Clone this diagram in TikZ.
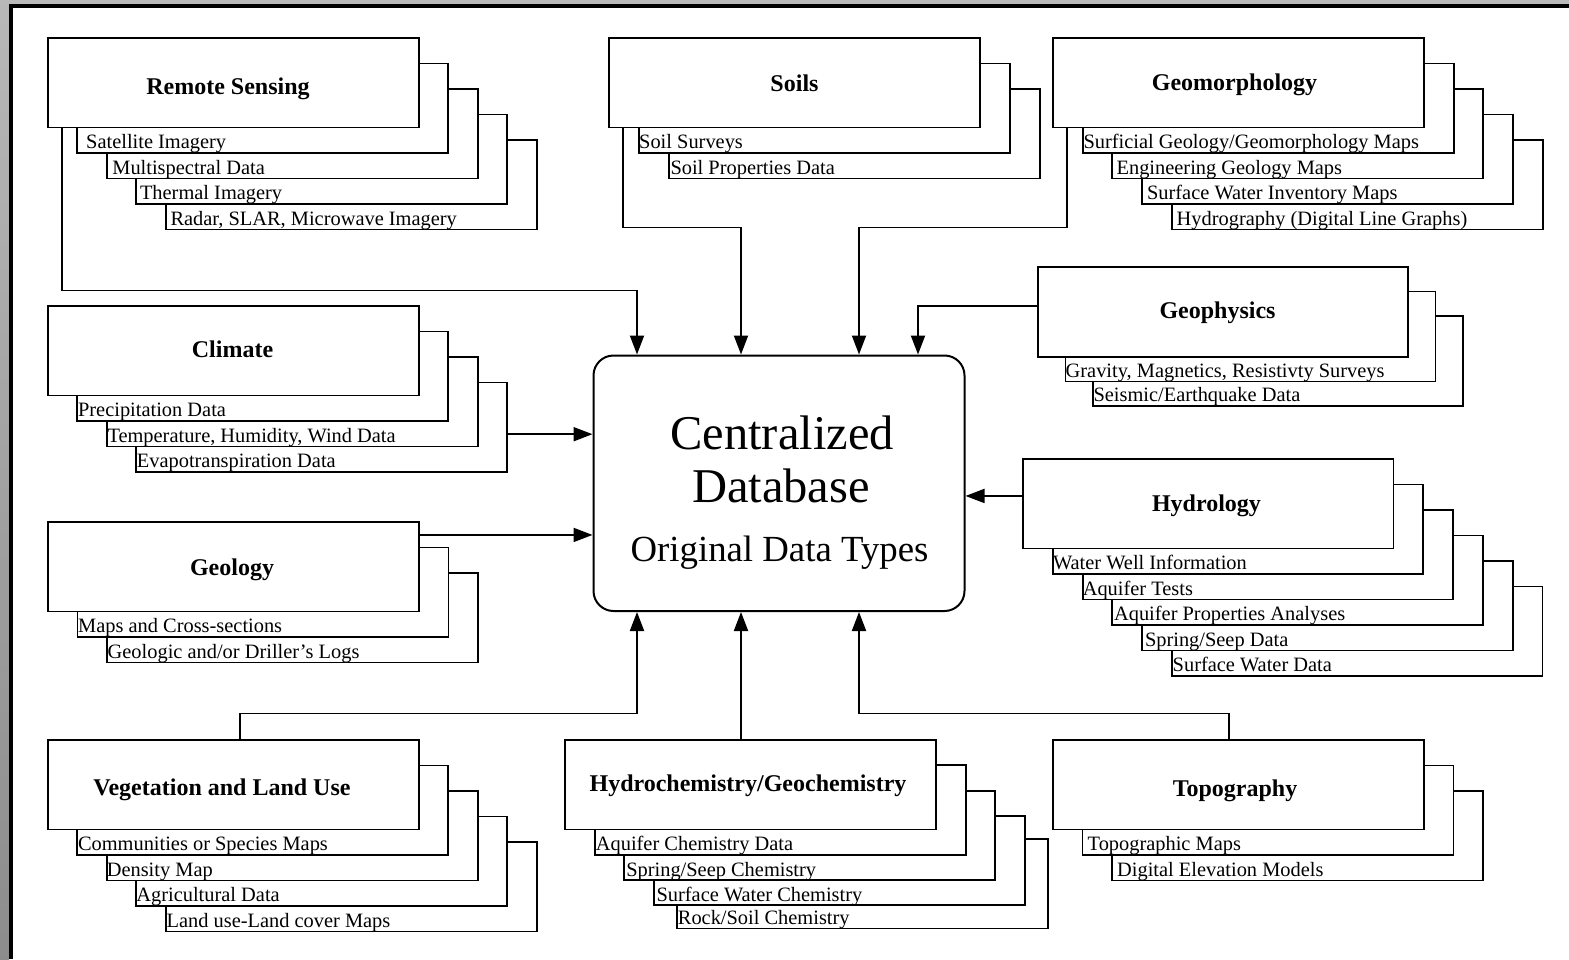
\documentclass[tikz,border=0pt]{standalone}
\usepackage{fontspec}
\setmainfont{Liberation Serif}
\usetikzlibrary{arrows.meta}

\tikzset{
  layer/.style={rectangle, draw, fill=white, line width=1.9pt,
    minimum width=371pt, minimum height=89.5pt, inner sep=0pt, anchor=north west},
  ttl/.style={font=\fontsize{24}{28}\selectfont\bfseries, inner sep=0pt, anchor=base},
  item/.style={font=\fontsize{20.4}{24}\selectfont, inner sep=0pt, anchor=base west},
  link/.style={line width=1.9pt, -{Triangle[length=19pt,width=14pt]}},
  hub/.style={rectangle, draw, fill=white, line width=2pt, rounded corners=20pt,
    minimum width=371pt, minimum height=255.5pt, inner sep=0pt},
  hubtxt/.style={inner sep=0pt, anchor=base},
}

% a pile of equal boxes, drawn from the back one (index #5) to the front one (index 0)
% #1 extra style, #2 name, #3,#4 top-left of the front box, #5 last index, #6,#7 step
\newcommand\boxstack[7][]{%
  \foreach \k in {#5,...,0}{%
    \node[layer,#1] (#2\k) at ({#3+\k*#6},{#4+\k*#7}) {};}}

% a line of text along the bottom strip of a back box
% #1 left inset, #2 box name, #3 text
\newcommand\itm[3][1.5]{%
  \node[item] (#2t) at ([xshift=#1pt,yshift=5pt]#2.south west) {#3};}

\begin{document}
\begin{tikzpicture}[x=1pt,y=-1pt]
\useasboundingbox (0,0) rectangle (1569,959);
\fill[white] (0,0) rectangle (1569,959);

% frame along the top and left edges
\fill[black!27] (0,0) rectangle (1569,4);
\shade[top color=black!28, bottom color=black!45] (0,0) rectangle (9,959);
\fill[black] (9,4) rectangle (1569,8);
\fill[black] (9,4) rectangle (13,959);

% ---- box piles ----
\boxstack{rs}{47}{37}{4}{29.4}{25.5}
\boxstack{so}{608}{37}{2}{30}{25.5}
\boxstack{gm}{1052}{37}{4}{29.7}{25.5}
\boxstack{cl}{47}{305}{3}{29.4}{25.5}
\boxstack{ge}{47}{521}{2}{29.5}{25.5}
\boxstack[minimum width=370pt, minimum height=90pt]{gp}{1037}{266}{2}{27.5}{24.5}
\boxstack[minimum width=370.5pt]{hy}{1022}{458}{5}{29.8}{25.5}
\boxstack{vg}{47}{739}{4}{29.4}{25.5}
\node[layer] (hc4) at (676,838) {};
\boxstack{hc}{564}{739}{3}{29.7}{25.3}
\boxstack{tp}{1052}{739}{2}{29.5}{25.5}

% ---- central database ----
\node[hub] (db) at (779,483.25) {};
\node[hubtxt, font=\fontsize{48.5}{52}\selectfont] (dbt1) at (782,449.3) {Centralized};
\node[hubtxt, font=\fontsize{48.5}{52}\selectfont] (dbt2) at (781,502.3) {Database};
\node[hubtxt, font=\fontsize{36.8}{40}\selectfont] (dbt3) at (779.5,561.7) {Original Data Types};

% entry points on the database box
\coordinate (dbN1) at ([xshift=44.5pt]db.north west);
\coordinate (dbN2) at ([xshift=148.5pt]db.north west);
\coordinate (dbN3) at ([xshift=266.5pt]db.north west);
\coordinate (dbN4) at ([xshift=325.5pt]db.north west);
\coordinate (dbS1) at ([xshift=44.5pt]db.south west);
\coordinate (dbS2) at ([xshift=148.5pt]db.south west);
\coordinate (dbS3) at ([xshift=266.5pt]db.south west);

% ---- connectors ----
\coordinate (rsA) at ([xshift=15pt]rs0.south west);
\draw[link] (rsA) |- ([yshift=64pt]dbN1) -- (dbN1);
\coordinate (soA) at ([xshift=15pt]so0.south west);
\draw[link] (soA) |- ([yshift=127pt]dbN2) -- (dbN2);
\coordinate (gmA) at ([xshift=15pt]gm0.south west);
\draw[link] (gmA) |- ([yshift=127pt]dbN3) -- (dbN3);
\coordinate (gpA) at ([yshift=6pt]gp0.west);
\draw[link] (gpA) -| (dbN4);
\coordinate (clA) at ([yshift=-7pt]cl3.east);
\draw[link] (clA) -- (clA -| db.west);
\coordinate (geA) at ([yshift=31.75pt]ge0.east);
\draw[link] (geA) -- (geA -| db.west);
\coordinate (hyA) at ([yshift=7.75pt]hy0.west);
\draw[link] (hyA) -- (hyA -| db.east);
\coordinate (vgA) at ([xshift=193pt]vg0.north west);
\draw[link] (vgA) |- ([yshift=-101.5pt]dbS1) -- (dbS1);
\draw[link] (hc0.north -| dbS2) -- (dbS2);
\coordinate (tpA) at ([xshift=177pt]tp0.north west);
\draw[link] (tpA) |- ([yshift=-101.5pt]dbS3) -- (dbS3);

% ---- titles ----
\node[ttl] (rsT) at (228,94) {Remote Sensing};
\node[ttl] (soT) at (794.5,91.7) {Soils};
\node[ttl] (gmT) at (1234.5,90.5) {Geomorphology};
\node[ttl] (clT) at (232.5,357) {Climate};
\node[ttl] (geT) at (232,575) {Geology};
\node[ttl] (gpT) at (1217.5,318.3) {Geophysics};
\node[ttl] (hyT) at (1206.5,511.7) {Hydrology};
\node[ttl] (vgT) at (222,795) {Vegetation and Land Use};
\node[ttl] (hcT) at (748,791.7) {Hydrochemistry/Geochemistry};
\node[ttl] (tpT) at (1235,796) {Topography};

% ---- items ----
\itm[9.6]{rs1}{Satellite Imagery}
\itm[6.4]{rs2}{Multispectral Data}
\itm[4.6]{rs3}{Thermal Imagery}
\itm[5.7]{rs4}{Radar, SLAR, Microwave Imagery}

\itm[1]{so1}{Soil Surveys}
\itm[2.3]{so2}{Soil Properties Data}

\itm[1.7]{gm1}{Surficial Geology/Geomorphology Maps}
\itm[5]{gm2}{Engineering Geology Maps}
\itm[5.8]{gm3}{Surface Water Inventory Maps}
\itm[5.7]{gm4}{Hydrography (Digital Line Graphs)}

\itm[1.5]{cl1}{Precipitation Data}
\itm[1.5]{cl2}{Temperature, Humidity, Wind Data}
\itm[1.5]{cl3}{Evapotranspiration Data}

\itm[1.5]{ge1}{Maps and Cross-sections}
\itm[1.5]{ge2}{Geologic and/or Driller's Logs}

\itm[1]{gp1}{Gravity, Magnetics, Resistivty Surveys}
\itm[1.3]{gp2}{Seismic/Earthquake Data}

\itm[1]{hy1}{Water Well Information}
\itm[1]{hy2}{Aquifer Tests}
\itm[2.5]{hy3}{Aquifer Properties Analyses}
\itm[3.6]{hy4}{Spring/Seep Data}
\itm[1.5]{hy5}{Surface Water Data}

\itm[1.4]{vg1}{Communities or Species Maps}
\itm[0.8]{vg2}{Density Map}
\itm[1]{vg3}{Agricultural Data}
\itm[1.8]{vg4}{Land use-Land cover Maps}

\itm[2]{hc1}{Aquifer Chemistry Data}
\itm[2.7]{hc2}{Spring/Seep Chemistry}
\itm[3.3]{hc3}{Surface Water Chemistry}
\itm[1.7]{hc4}{Rock/Soil Chemistry}

\itm[6]{tp1}{Topographic Maps}
\itm[6]{tp2}{Digital Elevation Models}
\end{tikzpicture}
\end{document}
